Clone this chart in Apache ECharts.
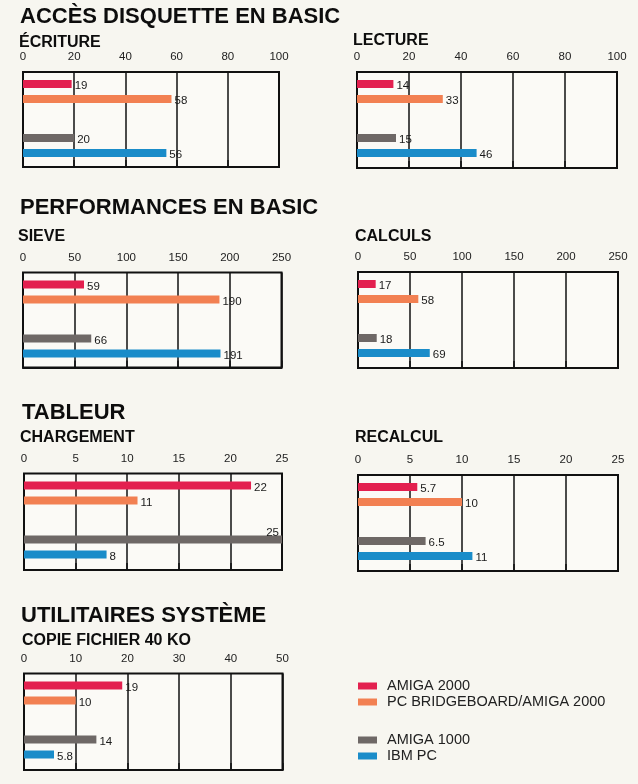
<!DOCTYPE html>
<html>
<head>
<meta charset="utf-8">
<script src="https://cdn.jsdelivr.net/npm/echarts@6/dist/echarts.min.js"></script>
<style>
html,body{margin:0;padding:0;background:#f7f6f0;}
#chart{width:638px;height:784px;}
</style>
</head>
<body>
<div id="chart"></div>
<script>
// ---------- DATA ----------
const machines = ['AMIGA 2000', 'PC BRIDGEBOARD/AMIGA 2000', 'AMIGA 1000', 'IBM PC'];
const groups = ['AMIGA 2000 / BRIDGEBOARD', 'AMIGA 1000 / IBM PC'];
const machineGroup = [0, 0, 1, 1];

const ecriture   = [19, 58, 20, 56];
const lecture    = [14, 33, 15, 46];
const sieve      = [59, 190, 66, 191];
const calculs    = [17, 58, 18, 69];
const chargement = [22, 11, 25, 8];
const recalcul   = [5.7, 10, 6.5, 11];
const copie      = [19, 10, 14, 5.8];

const axisMax  = [100, 100, 250, 250, 25, 25, 50];
const axisStep = [20, 20, 50, 50, 5, 5, 10];

const sections  = ['ACCÈS DISQUETTE EN BASIC', 'PERFORMANCES EN BASIC', 'TABLEUR', 'UTILITAIRES SYSTÈME'];
const subtitles = ['ÉCRITURE', 'LECTURE', 'SIEVE', 'CALCULS', 'CHARGEMENT', 'RECALCUL', 'COPIE FICHIER 40 KO'];

// ---------- LAYOUT & STYLE ----------
const panelValues = [ecriture, lecture, sieve, calculs, chargement, recalcul, copie];
const colors = ['#e3204f', '#f28052', '#6e6866', '#1a8cc9'];
const FONT = "'Liberation Sans', Arial, Helvetica, sans-serif";
const frames = [
  {left: 23,  top: 72,    width: 256,   height: 95},
  {left: 357, top: 72,    width: 260,   height: 96},
  {left: 23,  top: 272.5, width: 258.5, height: 95},
  {left: 358, top: 272,   width: 260,   height: 96},
  {left: 24,  top: 473.5, width: 258,   height: 96.5},
  {left: 358, top: 475,   width: 260,   height: 96},
  {left: 24,  top: 673.5, width: 258.5, height: 96.5}
];
const sectionPos = [{left: 20, top: 5.5}, {left: 20, top: 197}, {left: 22, top: 401.5}, {left: 21, top: 605}];
const subPos = [
  {left: 19, top: 35}, {left: 353, top: 33}, {left: 18, top: 228.7}, {left: 355, top: 228.7},
  {left: 20, top: 429.5}, {left: 355, top: 429.5}, {left: 22, top: 633}
];

const titles = [];
sections.forEach((t, i) => titles.push({
  text: t, left: sectionPos[i].left, top: sectionPos[i].top, padding: 0,
  textStyle: {fontSize: 22, fontWeight: 'bold', color: '#0d0d0d', fontFamily: FONT}
}));
subtitles.forEach((t, i) => titles.push({
  text: t, left: subPos[i].left, top: subPos[i].top, padding: 0,
  textStyle: {fontSize: 16, fontWeight: 'bold', color: '#0d0d0d', fontFamily: FONT}
}));

const grids = [], xAxes = [], yAxes = [], series = [];
panelValues.forEach((vals, p) => {
  const f = frames[p];
  const gFrame = grids.length;
  grids.push({left: f.left, top: f.top, width: f.width, height: f.height, show: true,
    borderColor: '#111', borderWidth: 2, backgroundColor: '#fbfaf6'});
  const gData = grids.length;
  grids.push({left: f.left, top: f.top + 22.5, width: f.width, height: 48});

  xAxes.push({gridIndex: gFrame, type: 'value', position: 'top', min: 0, max: axisMax[p], interval: axisStep[p],
    axisLine: {show: true, lineStyle: {color: '#111', width: 2}},
    axisTick: {show: true, length: 7, lineStyle: {color: '#111', width: 1.5}},
    axisLabel: {margin: 9, fontSize: 11.5, color: '#222', fontFamily: FONT},
    splitLine: {show: true, lineStyle: {color: '#111', width: 1.5}}});
  xAxes.push({gridIndex: gData, type: 'value', min: 0, max: axisMax[p], show: false, splitLine: {show: false}});
  yAxes.push({gridIndex: gFrame, type: 'value', min: 0, max: 1, show: false, splitLine: {show: false}});
  yAxes.push({gridIndex: gData, type: 'category', data: groups, inverse: true, show: false});

  machines.forEach((m, i) => {
    const data = groups.map((g, gi) => {
      if (gi !== machineGroup[i]) return null;
      const v = vals[i];
      if (v >= axisMax[p]) {
        return {value: v, label: {position: ['100%', 0], align: 'right', verticalAlign: 'bottom', offset: [-3, 3]}};
      }
      return v;
    });
    series.push({
      type: 'bar', name: m, xAxisIndex: gData, yAxisIndex: gData, data: data,
      barWidth: 8, barGap: '87.5%', clip: false,
      itemStyle: {color: colors[i]},
      label: {show: true, position: 'right', distance: 3, offset: [0, 2],
        fontSize: 11.5, color: '#1a1a1a', fontFamily: FONT},
      emphasis: {disabled: true}
    });
  });
});

const legendCommon = {
  orient: 'vertical', left: 358, padding: 0, itemGap: 1, icon: 'rect',
  itemWidth: 19, itemHeight: 7,
  textStyle: {fontSize: 14.5, lineHeight: 15, color: '#222', fontFamily: FONT, padding: [0, 0, 0, 5]}
};

const chart = echarts.init(document.getElementById('chart'), null, {renderer: 'canvas'});
chart.setOption({
  backgroundColor: '#f7f6f0',
  animation: false,
  title: titles,
  legend: [
    Object.assign({}, legendCommon, {top: 678.5, data: machines.slice(0, 2)}),
    Object.assign({}, legendCommon, {top: 732.5, data: machines.slice(2, 4)})
  ],
  grid: grids,
  xAxis: xAxes,
  yAxis: yAxes,
  series: series
});
</script>
</body>
</html>
